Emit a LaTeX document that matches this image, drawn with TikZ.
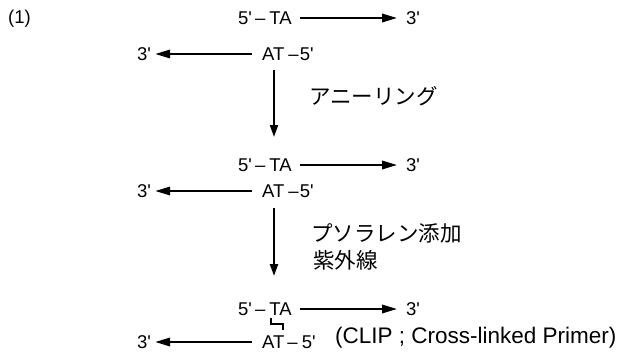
\documentclass[tikz,border=0pt]{standalone}
\usepackage{fontspec}
\newfontfamily\lsans{Liberation Sans}
\newfontfamily\jpfont{Noto Sans CJK JP}
\usetikzlibrary{arrows.meta}
\newcommand\rowfont{\lsans\fontsize{18.5pt}{22pt}\selectfont}
\newcommand\clipfont{\lsans\fontsize{22.5pt}{26pt}\selectfont}
\newcommand\jpsize{\jpfont\fontsize{21.5pt}{26pt}\selectfont}
\tikzset{
  seq/.style={font=\rowfont, inner sep=0pt, anchor=west, text height=13.2pt, text depth=0pt},
  jplabel/.style={font=\jpsize, inner sep=0pt, anchor=west},
  cliplabel/.style={font=\clipfont, inner sep=0pt, anchor=west, text height=16pt, text depth=0pt},
  harrow/.style={line width=2pt, -{Triangle[length=15pt,width=8.5pt]}},
  varrow/.style={line width=2pt, -{Triangle[length=12pt,width=8pt]}},
  xlink/.style={line width=2pt}
}
\begin{document}
\begin{tikzpicture}[x=1pt,y=-1pt]
\useasboundingbox (0,0) rectangle (620,353);
\node[seq] (lab) at (8,17) {(1)};
% row 1 and 2
\node[seq] (t1) at (238,18) {5'\hspace{3pt}–\hspace{4pt}TA};
\node[seq] (e1) at (406,18) {3'};
\node[seq] (s1) at (137,54) {3'};
\node[seq] (b1) at (262,54) {AT\hspace{4pt}–\hspace{1pt}5'};
\draw[harrow, shorten <=8pt, shorten >=9pt] (t1.east) -- (e1.west);
\draw[harrow, shorten <=10pt, shorten >=4pt] (b1.west) -- (s1.east);
% step 1
\coordinate (v1s) at (274,70);
\coordinate (v1e) at (274,137);
\draw[varrow] (v1s) -- (v1e);
\node[jplabel] (j1) at (309,96) {アニーリング};
% row 3 and 4
\node[seq] (t2) at (238,165) {5'\hspace{3pt}–\hspace{4pt}TA};
\node[seq] (e2) at (406,165) {3'};
\node[seq] (s2) at (137,191) {3'};
\node[seq] (b2) at (262,191) {AT\hspace{4pt}–\hspace{1pt}5'};
\draw[harrow, shorten <=8pt, shorten >=9pt] (t2.east) -- (e2.west);
\draw[harrow, shorten <=10pt, shorten >=4pt] (b2.west) -- (s2.east);
% step 2
\coordinate (v2s) at (274,208);
\coordinate (v2e) at (274,276);
\draw[varrow] (v2s) -- (v2e);
\node[jplabel] (j2) at (311,233) {プソラレン添加};
\node[jplabel] (j3) at (313,260) {紫外線};
% row 5 and 6
\node[seq] (t3) at (238,309) {5'\hspace{3pt}–\hspace{4pt}TA};
\node[seq] (e3) at (406,309) {3'};
\node[seq] (s3) at (137,342) {3'};
\node[seq] (b3) at (262,342) {AT\hspace{3pt}–\hspace{4pt}5'};
\draw[harrow, shorten <=8pt, shorten >=9pt] (t3.east) -- (e3.west);
\draw[harrow, shorten <=10pt, shorten >=4pt] (b3.west) -- (s3.east);
% cross-link
\coordinate (xa) at (271,318);
\coordinate (xb) at (271,324);
\coordinate (xc) at (283,324);
\coordinate (xd) at (283,330);
\draw[xlink] (xa) -- (xb) -- (xc) -- (xd);
\node[cliplabel] (clip) at (335,335) {(CLIP ; Cross-linked Primer)};
\end{tikzpicture}
\end{document}
